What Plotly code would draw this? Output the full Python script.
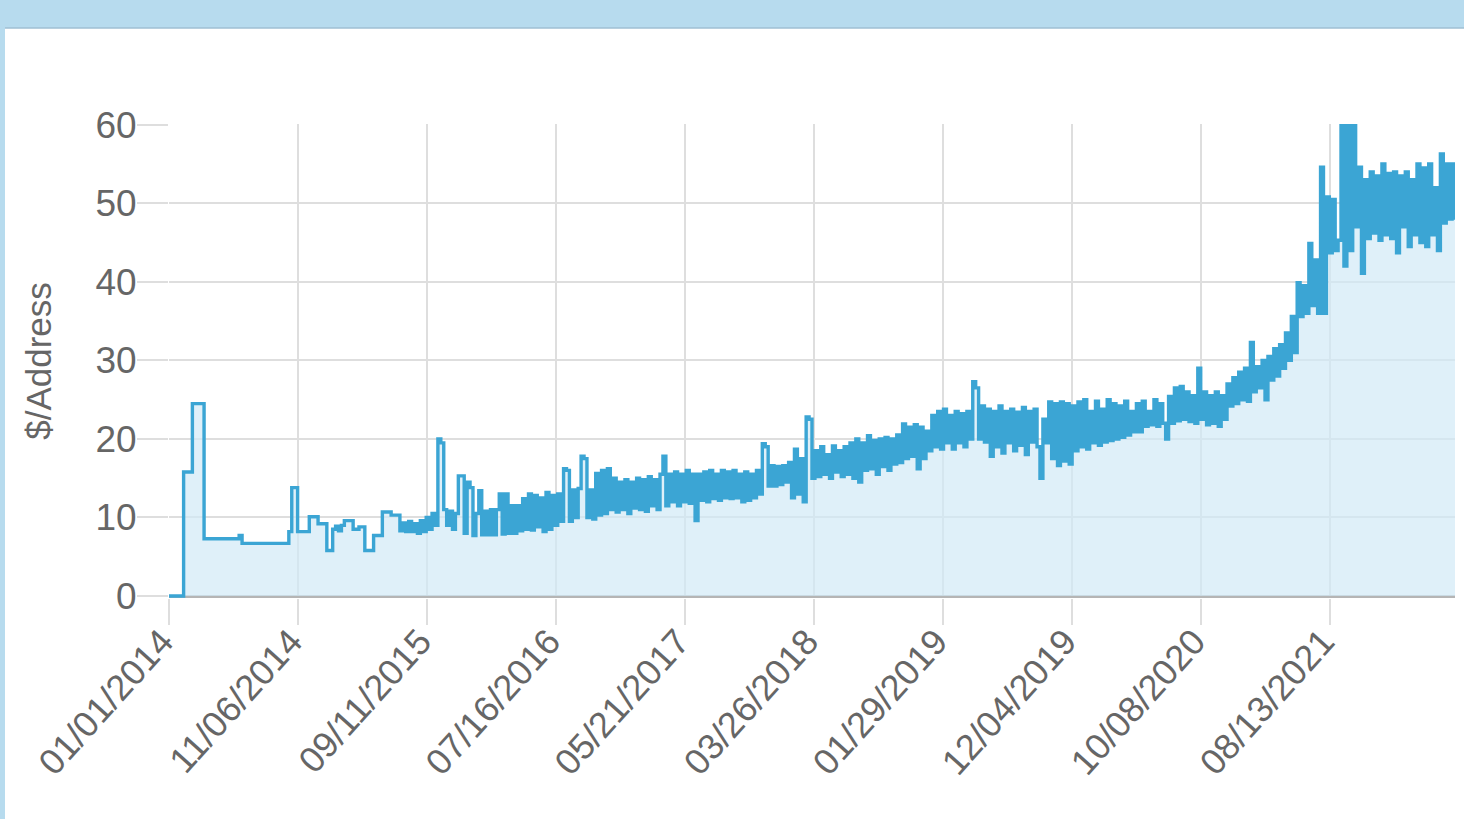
import pandas as pd
import plotly.graph_objects as go

# Weekly $/Address values starting 2014-01-01
start_date = "2014-01-01"
end_date = "2022-06-08"
step_days = 7

vals_2014 = [
    0, 0, 0, 0, 0, 15.8, 15.8, 15.8, 24.5, 24.5,
    24.5, 24.5, 7.3, 7.3, 7.3, 7.3, 7.3, 7.3, 7.3, 7.3,
    7.3, 7.3, 7.3, 7.3, 7.7, 6.7, 6.7, 6.7, 6.7, 6.7,
    6.7, 6.7, 6.7, 6.7, 6.7, 6.7, 6.7, 6.7, 6.7, 6.7,
    6.7, 8.2, 13.8, 13.8, 8.2, 8.2, 8.2, 8.2, 10.1, 10.1,
]
vals_2015 = [
    10.1, 9.2, 9.2, 9.2, 5.8, 5.8, 8.5, 8.9, 8.3, 9.0,
    9.6, 9.6, 9.6, 8.5, 8.5, 8.8, 8.8, 5.8, 5.8, 5.8,
    7.7, 7.7, 7.7, 10.7, 10.7, 10.7, 10.3, 10.3, 10.3, 8.3,
    9.3, 8.2, 9.5, 8.2, 9.2, 8.0, 9.6, 8.2, 10.0, 8.5,
    10.5, 9.0, 20.0, 19.5, 11.0, 9.0, 10.8, 8.5, 10.5, 15.3,
]
vals_2016 = [
    15.3, 8.0, 14.5, 13.8, 7.7, 10.5, 13.4, 7.8, 10.8, 7.8,
    11.0, 7.8, 11.0, 13.0, 7.9, 13.0, 8.0, 11.5, 8.0, 11.5,
    8.3, 12.4, 8.5, 13.0, 8.4, 12.8, 8.8, 12.5, 8.2, 13.2,
    8.5, 12.8, 9.0, 13.0, 9.5, 16.2, 16.0, 9.5, 13.5, 10.0,
    13.7, 17.8, 17.5, 10.0, 13.5, 9.8, 15.6, 10.3, 16.0, 10.5,
]
vals_2017 = [
    16.2, 11.0, 15.0, 10.7, 14.5, 11.0, 14.8, 10.5, 14.5, 11.2,
    15.0, 11.0, 14.8, 10.8, 15.2, 11.5, 14.8, 11.0, 15.5, 17.8,
    11.5, 15.5, 12.0, 15.8, 11.5, 15.5, 12.0, 16.0, 11.8, 15.5,
    9.6, 15.5, 12.2, 15.8, 12.0, 16.0, 12.4, 15.5, 12.2, 16.0,
    12.5, 15.8, 12.4, 16.0, 12.5, 15.5, 12.0, 15.8, 12.2, 15.5,
]
vals_2018 = [
    12.5, 16.0, 13.0, 19.4, 19.0, 14.0, 16.6, 14.0, 16.5, 14.2,
    16.6, 14.5, 17.0, 12.5, 18.7, 13.0, 17.5, 12.0, 22.8, 22.5,
    15.0, 18.5, 15.2, 19.0, 15.5, 18.0, 15.0, 19.1, 15.8, 18.5,
    15.2, 19.0, 15.5, 19.5, 15.0, 20.0, 14.5, 19.5, 16.0, 20.4,
    16.2, 19.8, 15.5, 20.0, 16.5, 20.2, 16.0, 20.0, 16.8, 20.5,
]
vals_2019 = [
    17.0, 21.9, 17.5, 21.5, 17.8, 21.8, 16.2, 21.5, 17.5, 21.0,
    18.5, 23.0, 19.0, 23.5, 18.7, 23.8, 19.5, 23.0, 18.7, 23.5,
    19.5, 23.2, 19.0, 23.5, 20.0, 27.3, 26.5, 20.0, 24.2, 19.6,
    23.8, 17.8, 23.5, 19.0, 24.2, 18.2, 23.5, 19.5, 23.8, 18.5,
    23.4, 19.2, 24.0, 18.0, 23.5, 19.6, 23.8, 19.0, 15.0, 22.5,
]
vals_2020 = [
    19.5, 24.7, 17.5, 24.5, 16.6, 24.7, 17.2, 24.5, 16.8, 24.2,
    18.5, 24.7, 19.0, 25.0, 18.7, 23.5, 19.5, 24.8, 19.2, 23.8,
    19.6, 25.0, 19.8, 24.5, 20.0, 24.2, 20.2, 24.8, 20.5, 23.5,
    20.9, 24.5, 20.9, 24.8, 21.6, 23.5, 21.8, 25.0, 21.6, 24.5,
    22.0, 20.0, 25.4, 22.0, 26.5, 22.3, 26.7, 22.5, 26.0, 22.2,
]
vals_2021 = [
    25.5, 22.0, 29.0, 22.5, 26.0, 21.8, 25.5, 22.0, 26.0, 21.6,
    25.5, 22.5, 27.0, 24.2, 27.8, 24.5, 28.5, 25.0, 29.0, 24.8,
    32.3, 26.0, 29.2, 26.5, 30.0, 25.0, 30.5, 27.5, 31.5, 28.0,
    32.0, 29.0, 33.5, 30.0, 35.6, 31.0, 39.9, 35.6, 39.5, 36.0,
    44.9, 37.0, 42.8, 36.0, 54.6, 36.0, 50.8, 43.7, 50.5, 44.0,
]
vals_2022 = [
    45.3, 60.5, 42.0, 60.5, 44.0, 60.5, 47.0, 54.6, 41.1, 53.0,
    45.5, 54.0, 46.2, 53.5, 45.3, 55.0, 46.0, 53.8, 45.5, 54.0,
    43.7, 53.5, 47.0, 54.0, 44.5, 53.0, 46.0, 55.0, 45.0, 54.5,
    44.5, 55.0, 46.0, 52.0, 44.0, 56.3, 47.5, 55.0, 48.0, 55.0,
    47.9,
]

values = vals_2014 + vals_2015 + vals_2016 + vals_2017 + vals_2018 + vals_2019 + vals_2020 + vals_2021 + vals_2022
dates = pd.date_range(start_date, periods=len(values), freq=f"{step_days}D")

y_ticks = [0, 10, 20, 30, 40, 50, 60]
x_tick_step_days = 309

LINE = "#3ba5d4"
FILL = "rgba(210,234,246,0.7)"
GRID = "#dedede"
TEXT = "#666666"
FONT = "Liberation Sans, Arial, sans-serif"

fig = go.Figure()
fig.add_trace(go.Scatter(
    x=dates, y=values, mode="lines",
    line=dict(color=LINE, width=3.4, shape="hv"),
    fill="tozeroy", fillcolor=FILL,
    hoverinfo="x+y", showlegend=False,
))

# Plot area geometry (px) -> paper coordinates for the frame decoration
W, H = 1464, 819
L, R, T, B = 169, 9, 124, 221
pw, ph = W - L - R, H - T - B
def px_x(px):
    return (px - L) / pw
def px_y(py):
    return (H - B - py) / ph

frame_color = "#b7dbee"
fig.add_shape(type="rect", xref="paper", yref="paper",
              x0=px_x(0), x1=px_x(W), y0=px_y(28), y1=px_y(0),
              fillcolor=frame_color, line=dict(width=0), layer="below")
fig.add_shape(type="line", xref="paper", yref="paper",
              x0=px_x(0), x1=px_x(W), y0=px_y(28), y1=px_y(28),
              line=dict(color="#9fbfd3", width=1.5), layer="below")
fig.add_shape(type="rect", xref="paper", yref="paper",
              x0=px_x(0), x1=px_x(5), y0=px_y(H), y1=px_y(0),
              fillcolor=frame_color, line=dict(width=0), layer="below")

fig.update_layout(
    width=W, height=H,
    margin=dict(l=L, r=R, t=T, b=B, autoexpand=False),
    paper_bgcolor="white", plot_bgcolor="white",
    font=dict(family=FONT, color=TEXT),
)
fig.update_xaxes(
    type="date",
    range=[start_date, end_date],
    tick0=start_date, dtick=x_tick_step_days * 86400000,
    tickformat="%m/%d/%Y", tickangle=-48,
    tickfont=dict(size=36, color=TEXT, family=FONT),
    ticks="outside", ticklen=26, tickcolor=GRID, tickwidth=1.5,
    ticklabelstandoff=-19, ticklabelshift=-7,
    showgrid=True, gridcolor=GRID, gridwidth=1.5,
    showline=False, zeroline=False, automargin=False,
)
fig.update_yaxes(
    range=[-0.25, 60.1],
    tickvals=y_ticks,
    tickfont=dict(size=37, color=TEXT, family=FONT),
    ticks="outside", ticklen=31, tickcolor=GRID, tickwidth=1.5,
    ticklabelstandoff=-7,
    showgrid=True, gridcolor=GRID, gridwidth=1.5,
    zeroline=True, zerolinecolor="#b5b5b5", zerolinewidth=2.5,
    showline=False, automargin=False,
    title=dict(text="$/Address", font=dict(size=35, color=TEXT, family=FONT), standoff=33),
)

fig.write_html("out.html", config={"displayModeBar": False},
               post_script="document.body.style.margin='0';")
